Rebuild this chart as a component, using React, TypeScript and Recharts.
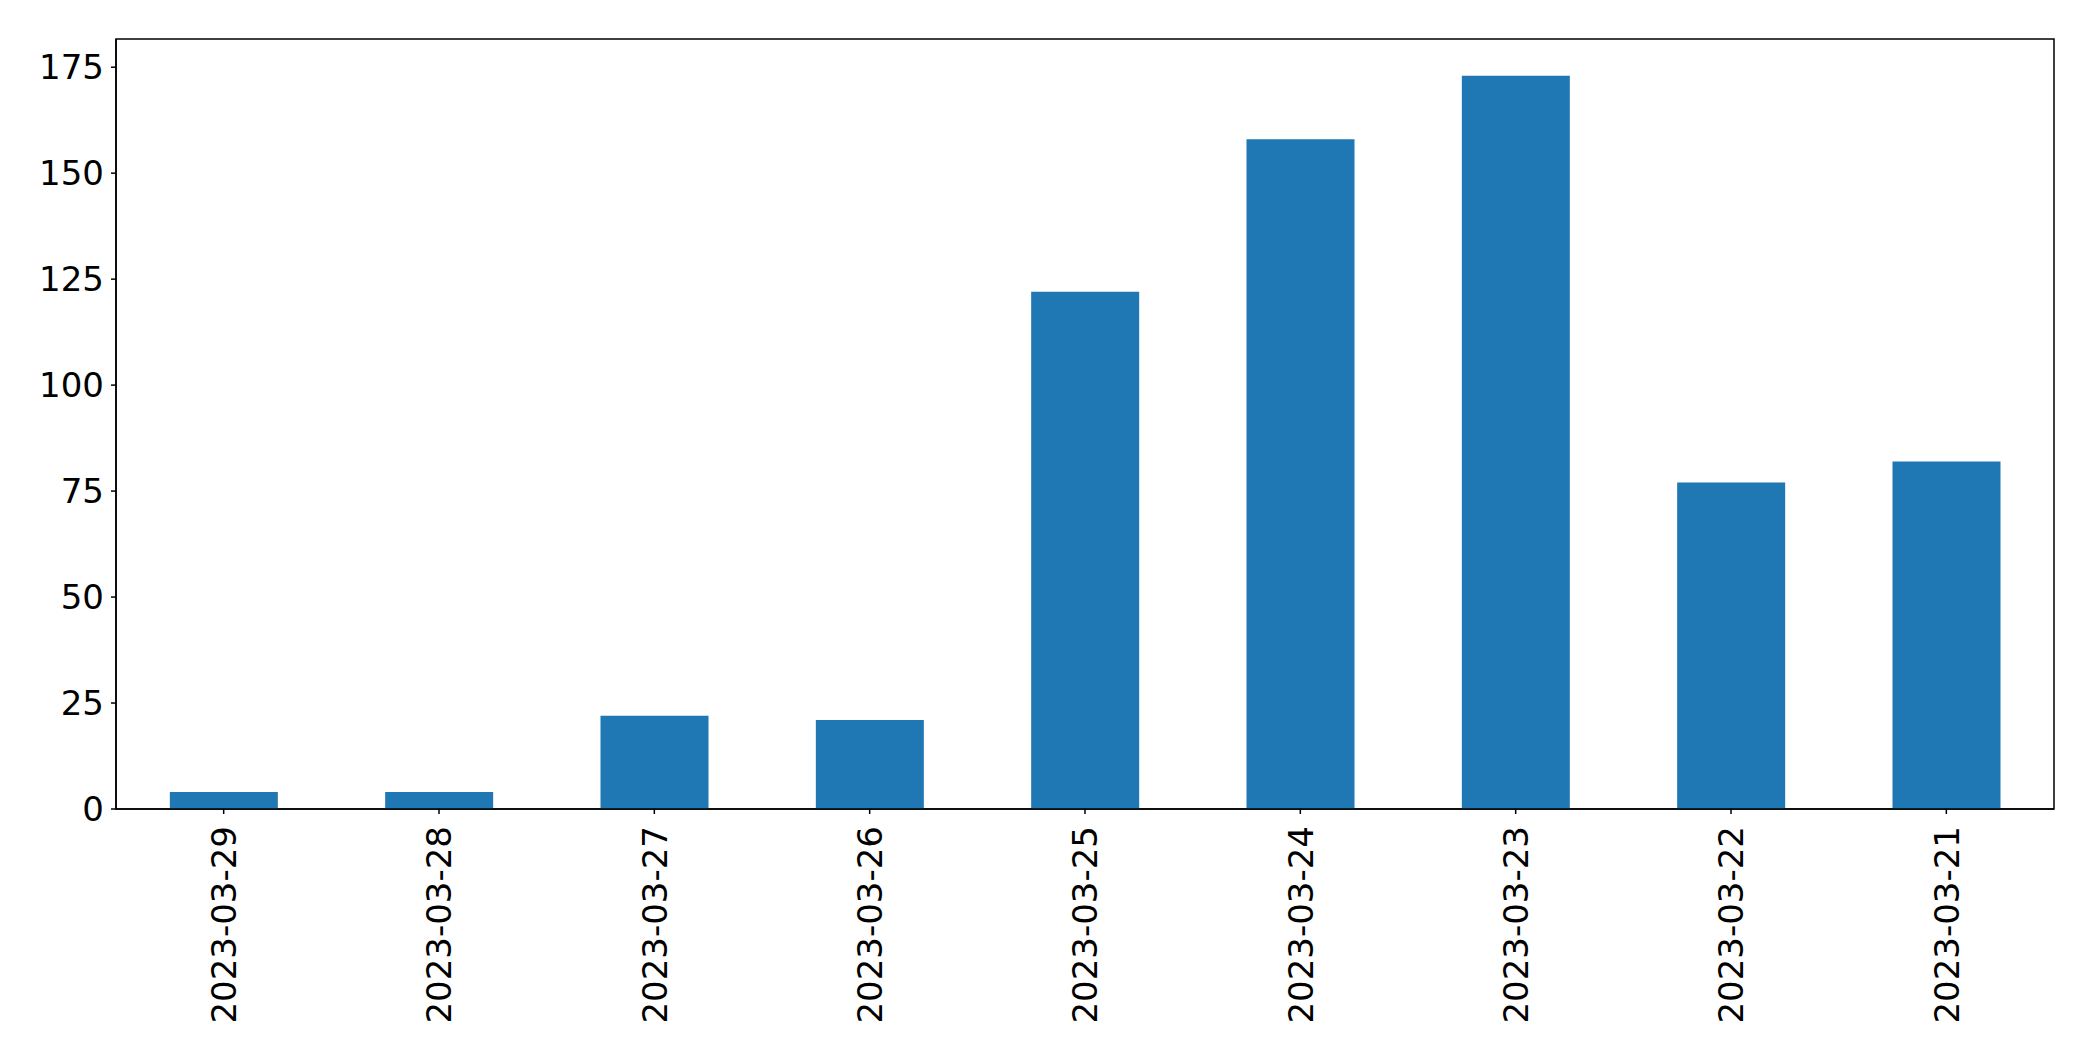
import React from "react";
import { BarChart, Bar, XAxis, YAxis, ReferenceArea } from "recharts";

// dates as they appear left to right (newest first)
const dates = [
  "2023-03-29",
  "2023-03-28",
  "2023-03-27",
  "2023-03-26",
  "2023-03-25",
  "2023-03-24",
  "2023-03-23",
  "2023-03-22",
  "2023-03-21",
];
const counts = [4, 4, 22, 21, 122, 158, 173, 77, 82];
const yTicks = [0, 25, 50, 75, 100, 125, 150, 175];
const yMax = 181.65;

const FONT = "DejaVu Sans";

const XTick = (props: any) => {
  const { x, y, payload } = props;
  return (
    <g transform={`translate(${x},${y})`}>
      <text
        transform="rotate(-90)"
        x={0}
        y={0}
        dy="0.365em"
        textAnchor="end"
        fontFamily={FONT}
        fontSize={34}
        fill="#000"
      >
        {payload.value}
      </text>
    </g>
  );
};

export default function App() {
  const data = dates.map((d, i) => ({ date: d, count: counts[i] }));

  return (
    <div style={{ width: 2093, height: 1061, background: "#fff" }}>
      <style>{"body{margin:0}"}</style>
      <BarChart
        width={2093}
        height={1061}
        data={data}
        margin={{ top: 39, right: 39, left: 0, bottom: 0 }}
        barCategoryGap="25%"
      >
        <XAxis
          dataKey="date"
          height={252}
          tick={<XTick />}
          tickSize={5}
          tickMargin={12}
          interval={0}
          stroke="#000"
          strokeWidth={1.5}
          tickLine={{ stroke: "#000", strokeWidth: 1.5 }}
        />
        <YAxis
          width={116}
          type="number"
          domain={[0, yMax]}
          ticks={yTicks}
          interval={0}
          tickSize={5}
          tickMargin={7}
          stroke="#000"
          strokeWidth={1.5}
          tick={{ fontFamily: FONT, fontSize: 34, fill: "#000" }}
          tickLine={{ stroke: "#000", strokeWidth: 1.5 }}
        />
        <Bar dataKey="count" fill="#1f77b4" isAnimationActive={false} />
        <ReferenceArea
          y1={0}
          y2={yMax}
          fill="none"
          stroke="#000"
          strokeWidth={1.5}
          ifOverflow="visible"
        />
      </BarChart>
    </div>
  );
}
